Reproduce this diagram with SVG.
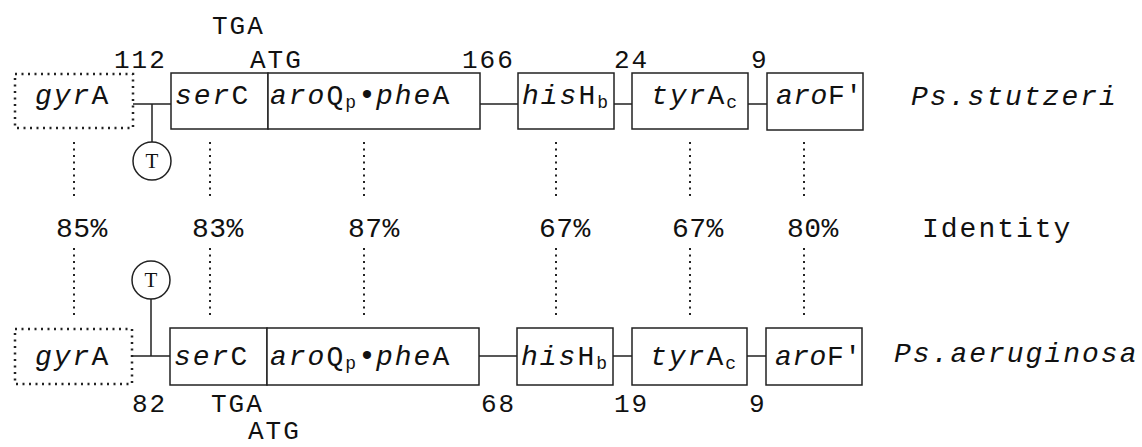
<svg xmlns="http://www.w3.org/2000/svg" width="1142" height="447" viewBox="0 0 1142 447">
<style>
.t{font-family:"Liberation Mono","Courier New",monospace;font-size:26px;fill:#111;letter-spacing:2px}
.p{font-family:"Liberation Mono","Courier New",monospace;font-size:28px;fill:#111;letter-spacing:0.5px}
.g{font-family:"Liberation Mono","Courier New",monospace;font-size:28px;fill:#111;letter-spacing:2px}
.f{letter-spacing:0.5px}
.i{font-style:italic}
.sub{font-size:18px;letter-spacing:0}
.bul{font-size:30px;letter-spacing:0}
.box{fill:#fff;stroke:#222;stroke-width:1.5}
.dbox{fill:none;stroke:#222;stroke-width:2.5;stroke-dasharray:2 4.5}
.ln{stroke:#222;stroke-width:1.5;fill:none}
.dot{stroke:#222;stroke-width:2;stroke-dasharray:2 4.5;fill:none}
.circ{fill:#fff;stroke:#222;stroke-width:1.5}
.ct{font-family:"Liberation Serif","Times New Roman",serif;font-size:21px;fill:#111;text-anchor:middle}
</style>
<g id="connectors">
<path class="ln" d="M133 104H171M152 104V142M480 104H518M614 104H632M748 104H767"/>
<path class="ln" d="M133 356H170M151 356V299M479 356H517M613 356H632M747 356H766"/>
<path class="dot" d="M74 142V198M210 142V198M364 142V198M556 142V198M690 142V198M804 142V198"/>
<path class="dot" d="M74 248V318M210 248V318M364 248V318M556 248V318M690 248V318M804 248V318"/>
</g>
<g id="top-row">
<g id="top-gyrA"><rect class="dbox" x="15" y="74" width="118" height="54"/><text class="g" x="35" y="104"><tspan class="i">gyr</tspan>A</text></g>
<g id="top-T"><circle class="circ" cx="152" cy="161" r="19"/><text class="ct" x="152" y="168">T</text></g>
<g id="top-serC"><rect class="box" x="171" y="73" width="97" height="56"/><text class="g" x="175" y="104"><tspan class="i">ser</tspan>C</text></g>
<g id="top-aroQ"><rect class="box" x="268" y="73" width="212" height="56"/><text class="g" x="270" y="104"><tspan class="i">aro</tspan>Q<tspan class="sub" dy="4">p</tspan><tspan class="bul" dy="-4" x="358">•</tspan><tspan class="i" x="376">phe</tspan>A</text></g>
<g id="top-hisH"><rect class="box" x="518" y="73" width="96" height="56"/><text class="g" x="522" y="104"><tspan class="i">his</tspan>H<tspan class="sub" dy="4">b</tspan></text></g>
<g id="top-tyrA"><rect class="box" x="632" y="73" width="116" height="56"/><text class="g" x="651" y="104"><tspan class="i">tyr</tspan>A<tspan class="sub" dy="4">c</tspan></text></g>
<g id="top-aroF"><rect class="box" x="767" y="73" width="96" height="57"/><text class="g f" x="776" y="104"><tspan class="i">aro</tspan>F'</text></g>
<text class="g i" x="911" y="105">Ps.stutzeri</text>
<text class="t" x="212" y="34">TGA</text>
<text class="t" x="114" y="68">112</text>
<text class="t" x="250" y="68">ATG</text>
<text class="t" x="462" y="68">166</text>
<text class="t" x="614" y="68">24</text>
<text class="t" x="751" y="68">9</text>
</g>
<g id="identity">
<text class="p" x="56" y="237">85%</text>
<text class="p" x="192" y="237">83%</text>
<text class="p" x="348" y="237">87%</text>
<text class="p" x="539" y="237">67%</text>
<text class="p" x="672" y="237">67%</text>
<text class="p" x="787" y="237">80%</text>
<text class="g" x="922" y="237">Identity</text>
</g>
<g id="bottom-row">
<g id="bot-gyrA"><rect class="dbox" x="15" y="329" width="117" height="55"/><text class="g" x="35" y="365"><tspan class="i">gyr</tspan>A</text></g>
<g id="bot-T"><circle class="circ" cx="151" cy="280" r="19"/><text class="ct" x="151" y="287">T</text></g>
<g id="bot-serC"><rect class="box" x="170" y="328" width="97" height="57"/><text class="g" x="174" y="365"><tspan class="i">ser</tspan>C</text></g>
<g id="bot-aroQ"><rect class="box" x="267" y="328" width="212" height="57"/><text class="g" x="270" y="365"><tspan class="i">aro</tspan>Q<tspan class="sub" dy="4">p</tspan><tspan class="bul" dy="-4" x="358">•</tspan><tspan class="i" x="376">phe</tspan>A</text></g>
<g id="bot-hisH"><rect class="box" x="517" y="328" width="96" height="57"/><text class="g" x="521" y="365"><tspan class="i">his</tspan>H<tspan class="sub" dy="4">b</tspan></text></g>
<g id="bot-tyrA"><rect class="box" x="632" y="328" width="115" height="57"/><text class="g" x="650" y="365"><tspan class="i">tyr</tspan>A<tspan class="sub" dy="4">c</tspan></text></g>
<g id="bot-aroF"><rect class="box" x="766" y="328" width="96" height="57"/><text class="g f" x="775" y="365"><tspan class="i">aro</tspan>F'</text></g>
<text class="g i" x="894" y="362">Ps.aeruginosa</text>
<text class="t" x="132" y="412">82</text>
<text class="t" x="211" y="412">TGA</text>
<text class="t" x="248" y="439">ATG</text>
<text class="t" x="481" y="412">68</text>
<text class="t" x="614" y="412">19</text>
<text class="t" x="749" y="412">9</text>
</g>
</svg>
